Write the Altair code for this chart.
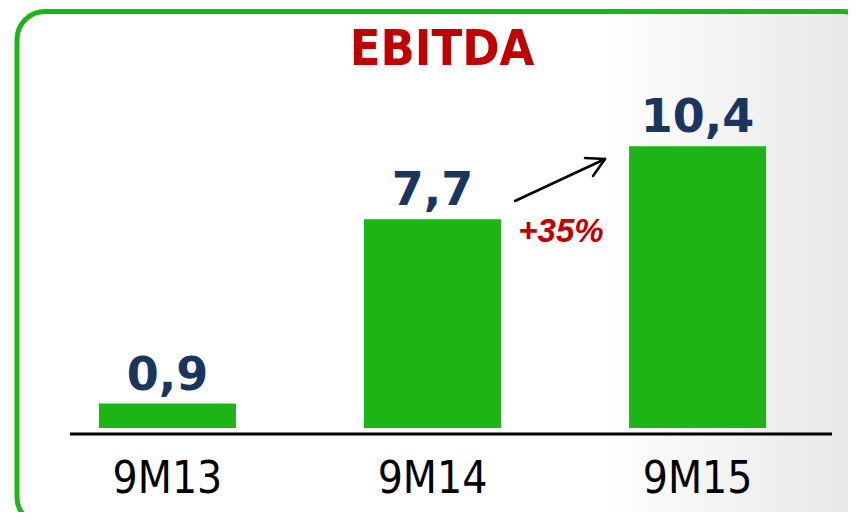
import altair as alt
import pandas as pd

# ---- data ----
periods = ["9M13", "9M14", "9M15"]
ebitda = [0.9, 7.7, 10.4]
growth_label = "+35%"
title_text = "EBITDA"

labels = [f"{v:.1f}".replace(".", ",") for v in ebitda]
df = pd.DataFrame({"period": periods, "value": ebitda, "label": labels})

GREEN = "#1DB515"
NAVY = "#1B355E"
RED = "#C00000"

PLOT_W, PLOT_H = 762, 420

x_enc = alt.X(
    "period:N",
    sort=periods,
    scale=alt.Scale(range=[0, 725], paddingInner=0.483, paddingOuter=0.109),
    axis=alt.Axis(
        title=None, domain=False, ticks=False, tickSize=0, grid=False,
        labelAngle=0, labelFont="Liberation Sans Narrow, DejaVu Sans Condensed, sans-serif",
        labelFontSize=44, labelColor="#000000", labelBaseline="alphabetic",
        labelPadding=64, zindex=2,
    ),
)
y_enc = alt.Y("value:Q", scale=alt.Scale(domain=[0, 15.5]), axis=None)

one = pd.DataFrame({"k": [0]})

# rounded green frame with a soft grey gradient
frame = alt.Chart(one).mark_rect(
    cornerRadius=28,
    stroke=GREEN,
    strokeWidth=5,
    fill=alt.LinearGradient(
        gradient="linear",
        stops=[
            alt.GradientStop(offset=0, color="#ffffff"),
            alt.GradientStop(offset=0.68, color="#ffffff"),
            alt.GradientStop(offset=1, color="#e6e6e6"),
        ],
        x1=0, x2=1, y1=0, y2=0,
    ),
).encode(x=alt.value(-53), x2=alt.value(801), y=alt.value(3.5), y2=alt.value(517))

baseline = alt.Chart(one).mark_rule(color="#000000", strokeWidth=3).encode(
    x=alt.value(0), x2=alt.value(PLOT_W), y=alt.value(426)
)

bars = alt.Chart(df).mark_bar(color=GREEN).encode(x=x_enc, y=y_enc)

values = alt.Chart(df).mark_text(
    font="DejaVu Sans, Verdana, sans-serif", fontWeight="bold", fontSize=46,
    color=NAVY, baseline="alphabetic", align="center", dy=-14,
).encode(x=x_enc, y=y_enc, text="label:N")

title = alt.Chart(one).mark_text(
    text=title_text,
    font="Liberation Sans Narrow, DejaVu Sans Condensed, sans-serif",
    fontWeight="bold", fontSize=50, color=RED, baseline="alphabetic", align="center",
).encode(x=alt.value(372), y=alt.value(57))

growth = alt.Chart(one).mark_text(
    text=growth_label,
    font="Liberation Sans, Arial, sans-serif", fontWeight="bold", fontStyle="italic",
    fontSize=33, color=RED, baseline="alphabetic", align="center",
).encode(x=alt.value(491), y=alt.value(234))

arrow_df = pd.DataFrame({
    "x": [445, 535, 535],
    "y": [193, 151, 151],
    "x2": [535, 515, 523],
    "y2": [151, 150, 168],
})
arrow = alt.Chart(arrow_df).mark_rule(color="#000000", strokeWidth=2.5, strokeCap="round").encode(
    x=alt.X("x:Q", scale=None), y=alt.Y("y:Q", scale=None),
    x2="x2:Q", y2="y2:Q",
)

chart = alt.layer(frame, baseline, bars, values, title, growth, arrow).properties(
    width=PLOT_W, height=PLOT_H,
    autosize=alt.AutoSizeParams(type="none"),
    padding={"left": 62, "top": 0, "right": 16, "bottom": 84},
    background="#ffffff",
).configure_view(stroke=None)

chart.save("out.html", embed_options={"renderer": "svg", "actions": False})
